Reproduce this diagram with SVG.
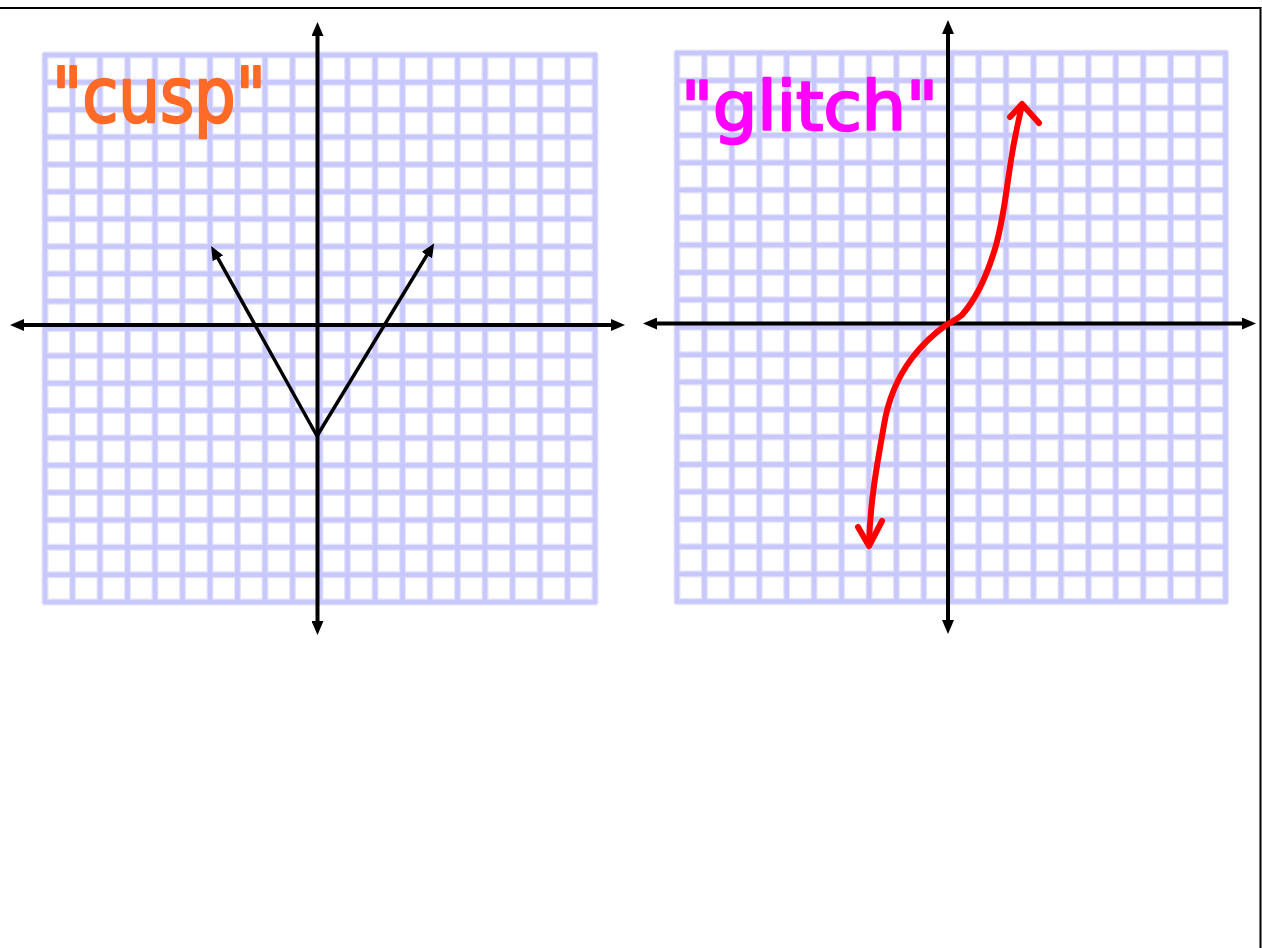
<svg xmlns="http://www.w3.org/2000/svg" width="1262" height="948" viewBox="0 0 1262 948">
<style>
.halo{fill:none;stroke:#e4e4f4;stroke-width:7}
.grid{fill:none;stroke:#c8c8ff;stroke-width:4.5}
.axis{fill:none;stroke:#000;stroke-width:4;marker-start:url(#ah);marker-end:url(#ah)}
.fn{fill:none;stroke:#000;stroke-width:3.5;marker-end:url(#ah)}
.red{fill:none;stroke:#ff0000;stroke-width:6;stroke-linecap:round;stroke-linejoin:round}
.lbl{font-family:"DejaVu Sans","Liberation Sans",sans-serif;stroke-width:2.5;stroke-linejoin:round}
</style>
<defs>
<marker id="ah" markerUnits="userSpaceOnUse" markerWidth="15" markerHeight="12" viewBox="0 0 15 12" refX="6" refY="6" orient="auto-start-reverse">
<path d="M0,0 L14,6 L0,12 z" fill="#000"/>
</marker>
</defs>
<rect width="1262" height="948" fill="#fff"/>
<g id="frame"><path d="M0,8 H1260.5 V948" fill="none" stroke="#000" stroke-width="2"/></g>
<g id="grid-left">
<path class="halo" d="M45,53V604M72.5,53V604M100,53V604M127.5,53V604M155,53V604M182.5,53V604M210,53V604M237.5,53V604M265,53V604M292.5,53V604M320,53V604M347.5,53V604M375,53V604M402.5,53V604M430,53V604M457.5,53V604M485,53V604M512.5,53V604M540,53V604M567.5,53V604M595,53V604M43,55H597M43,82.35H597M43,109.7H597M43,137.05H597M43,164.4H597M43,191.75H597M43,219.1H597M43,246.45H597M43,273.8H597M43,301.15H597M43,328.5H597M43,355.85H597M43,383.2H597M43,410.55H597M43,437.9H597M43,465.25H597M43,492.6H597M43,519.95H597M43,547.3H597M43,574.65H597M43,602H597"/>
<path class="grid" d="M45,53V604M72.5,53V604M100,53V604M127.5,53V604M155,53V604M182.5,53V604M210,53V604M237.5,53V604M265,53V604M292.5,53V604M320,53V604M347.5,53V604M375,53V604M402.5,53V604M430,53V604M457.5,53V604M485,53V604M512.5,53V604M540,53V604M567.5,53V604M595,53V604M43,55H597M43,82.35H597M43,109.7H597M43,137.05H597M43,164.4H597M43,191.75H597M43,219.1H597M43,246.45H597M43,273.8H597M43,301.15H597M43,328.5H597M43,355.85H597M43,383.2H597M43,410.55H597M43,437.9H597M43,465.25H597M43,492.6H597M43,519.95H597M43,547.3H597M43,574.65H597M43,602H597"/>
</g>
<g id="grid-right">
<path class="halo" d="M677,51V603.5M704.4,51V603.5M731.9,51V603.5M759.3,51V603.5M786.7,51V603.5M814.1,51V603.5M841.6,51V603.5M869,51V603.5M896.4,51V603.5M923.8,51V603.5M951.3,51V603.5M978.7,51V603.5M1006.1,51V603.5M1033.5,51V603.5M1061,51V603.5M1088.4,51V603.5M1115.8,51V603.5M1143.2,51V603.5M1170.7,51V603.5M1198.1,51V603.5M1225.5,51V603.5M675,53H1227.5M675,80.4H1227.5M675,107.9H1227.5M675,135.3H1227.5M675,162.7H1227.5M675,190.1H1227.5M675,217.6H1227.5M675,245H1227.5M675,272.4H1227.5M675,299.8H1227.5M675,327.3H1227.5M675,354.7H1227.5M675,382.1H1227.5M675,409.5H1227.5M675,437H1227.5M675,464.4H1227.5M675,491.8H1227.5M675,519.2H1227.5M675,546.7H1227.5M675,574.1H1227.5M675,601.5H1227.5"/>
<path class="grid" d="M677,51V603.5M704.4,51V603.5M731.9,51V603.5M759.3,51V603.5M786.7,51V603.5M814.1,51V603.5M841.6,51V603.5M869,51V603.5M896.4,51V603.5M923.8,51V603.5M951.3,51V603.5M978.7,51V603.5M1006.1,51V603.5M1033.5,51V603.5M1061,51V603.5M1088.4,51V603.5M1115.8,51V603.5M1143.2,51V603.5M1170.7,51V603.5M1198.1,51V603.5M1225.5,51V603.5M675,53H1227.5M675,80.4H1227.5M675,107.9H1227.5M675,135.3H1227.5M675,162.7H1227.5M675,190.1H1227.5M675,217.6H1227.5M675,245H1227.5M675,272.4H1227.5M675,299.8H1227.5M675,327.3H1227.5M675,354.7H1227.5M675,382.1H1227.5M675,409.5H1227.5M675,437H1227.5M675,464.4H1227.5M675,491.8H1227.5M675,519.2H1227.5M675,546.7H1227.5M675,574.1H1227.5M675,601.5H1227.5"/>
</g>
<g id="label-cusp"><text class="lbl" x="52" y="122" font-size="76" fill="#ff6a26" stroke="#ff6a26" textLength="214" lengthAdjust="spacingAndGlyphs">"cusp"</text></g>
<g id="label-glitch"><text class="lbl" x="681" y="130" font-size="68" fill="#ff00ff" stroke="#ff00ff" textLength="257" lengthAdjust="spacingAndGlyphs">"glitch"</text></g>
<g id="connectors">
<path class="axis" d="M18,325H617"/>
<path class="axis" d="M317.5,30V627"/>
<path class="axis" d="M651,323.5H1248"/>
<path class="axis" d="M948,28V626"/>
<path class="fn" d="M317,436L215,253"/>
<path class="fn" d="M317,436L430,250"/>
<path class="red" d="M1022,105 C1016,130 1012,150 1008,180 C1004,210 1000,235 993,255 C985,280 975,300 962,315 C956,320 951,322 946,325 C935,333 922,345 912,358 C897,378 888,400 884,425 C878,460 870,500 869,545"/>
<path class="red" d="M1010,117 L1022,104 L1039,123"/>
<path class="red" d="M858,527 L869,546 L882,521"/>
</g>
</svg>
